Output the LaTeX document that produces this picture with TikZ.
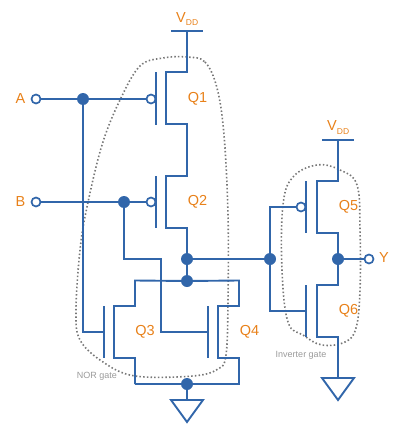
\documentclass[tikz,border=0pt]{standalone}
\usepackage{fontspec}
\setmainfont{Liberation Sans}
\definecolor{wire}{HTML}{3166AA}
\definecolor{lab}{HTML}{E8811A}
\definecolor{note}{HTML}{9A9A9A}
\definecolor{blob}{HTML}{777777}
\tikzset{
  w/.style={draw=wire,line width=1.9pt,line join=miter},
  dot/.style={circle,fill=wire,draw=none,minimum size=12pt,inner sep=0pt},
  port/.style={circle,fill=white,draw=wire,line width=1.7pt,minimum size=9pt,inner sep=0pt},
  lbl/.style={text=lab,font=\fontsize{14.5}{16}\selectfont,inner sep=0pt},
  nt/.style={text=note,font=\fontsize{9}{10}\selectfont,inner sep=0pt},
  gateblob/.style={draw=blob,line width=1.6pt,dash pattern=on 1.5pt off 2.2pt}
}
\begin{document}
\begin{tikzpicture}[x=1pt,y=-1pt]
\useasboundingbox (0,0) rectangle (400,431);
% dotted outlines
\draw[gateblob] plot[smooth cycle,tension=0.6] coordinates {(187,57)(205,62)(217,88)(224,135)(228,215)(228,300)(226,355)(218,369)(193,376)(135,376)(103,362)(80,340)(76,310)(80,250)(87,207)(102,145)(120,100)(140,66)(163,58)};
\draw[gateblob] plot[smooth cycle,tension=0.65] coordinates {(317,165)(340,170)(357,185)(360,230)(360,290)(356,328)(345,342)(322,345)(303,335)(288,322)(282,270)(283,205)(293,177)};
% named points
\coordinate (vt1) at (187,31); \coordinate (vl1) at (171,31); \coordinate (vr1) at (203,31);
\coordinate (vt2) at (338,140); \coordinate (vl2) at (322,140); \coordinate (vr2) at (354,140);
\coordinate (q1g1) at (156,72); \coordinate (q1g2) at (156,125);
\coordinate (q2g1) at (156,176); \coordinate (q2g2) at (156,228);
\coordinate (q3g1) at (104,306); \coordinate (q3g2) at (104,358);
\coordinate (q4g1) at (208,306); \coordinate (q4g2) at (208,358);
\coordinate (q5g1) at (306,181); \coordinate (q5g2) at (306,233);
\coordinate (q6g1) at (306,285); \coordinate (q6g2) at (306,337);
\coordinate (q3gin) at (104,332); \coordinate (q4gin) at (208,332);
\coordinate (q6gin) at (306,311);
% nodes
\node[dot] (da) at (83,99) {};
\node[dot] (db) at (124,202) {};
\node[dot] (dout) at (187,259) {};
\node[dot] (dtop) at (187,281) {};
\node[dot] (dgnd) at (187,384) {};
\node[dot] (dinv) at (270,259) {};
\node[dot] (dy) at (338,259) {};
\node[port] (pa) at (36,99) {};
\node[port] (pb) at (36,202) {};
\node[port] (pq1) at (151,99) {};
\node[port] (pq2) at (151,202) {};
\node[port] (pq5) at (301,207) {};
\node[port] (py) at (369,259) {};
\coordinate (g1a) at (187,400); \coordinate (g1b) at (171,400); \coordinate (g1c) at (203,400); \coordinate (g1d) at (187,422);
\coordinate (g2a) at (338,378); \coordinate (g2b) at (322,378); \coordinate (g2c) at (354,378); \coordinate (g2d) at (338,400);
% rails
\draw[w] (vl1) -- (vr1);
\draw[w] (vl2) -- (vr2);
% transistor gates
\draw[w] (q1g1) -- (q1g2);
\draw[w] (q2g1) -- (q2g2);
\draw[w] (q3g1) -- (q3g2);
\draw[w] (q4g1) -- (q4g2);
\draw[w] (q5g1) -- (q5g2);
\draw[w] (q6g1) -- (q6g2);
% NOR pull-up
\draw[w] (vt1) -- (187,72) -- (166,72) -- (166,124) -- (187,124) -- (187,176) -- (166,176) -- (166,228) -- (187,228) -- (dout);
\draw[w] (dout) -- (dtop);
% NOR pull-down
\draw[w] (135,384) -- (135,358) -- (114,358) -- (114,306) -- (135,306) -- (135,280.5) -- (dtop);
\draw[w] (dtop) -- (239,280.5) -- (239,306) -- (218,306) -- (218,358) -- (239,358) -- (239,384) -- (dgnd);
\draw[w] (dgnd) -- (135,384);
% inputs
\draw[w] (pa) -- (da);
\draw[w] (da) -- (pq1);
\draw[w] (pb) -- (db);
\draw[w] (db) -- (pq2);
\draw[w] (da) -- (83,332) -- (q3gin);
\draw[w] (db) -- (124,259) -- (161,259) -- (161,332) -- (q4gin);
% output to inverter
\draw[w] (dout) -- (dinv);
\draw[w] (dinv) -- (270,207) -- (pq5);
\draw[w] (dinv) -- (270,311) -- (q6gin);
% inverter
\draw[w] (vt2) -- (338,181) -- (317,181) -- (317,233) -- (338,233) -- (dy);
\draw[w] (dy) -- (338,285) -- (317,285) -- (317,337) -- (338,337) -- (g2a);
\draw[w] (dy) -- (py);
% grounds
\draw[w] (dgnd) -- (g1a);
\draw[w] (g1b) -- (g1c) -- (g1d) -- cycle;
\draw[w] (g2b) -- (g2c) -- (g2d) -- cycle;
% labels
\node[lbl] (la) at (20.5,99) {A};
\node[lbl] (lb) at (20.5,202) {B};
\node[lbl] (ly) at (384,258) {Y};
\node[lbl] (q1) at (197.5,99) {Q1};
\node[lbl] (q2) at (197.5,202) {Q2};
\node[lbl] (q3) at (145,332) {Q3};
\node[lbl] (q4) at (249.5,332) {Q4};
\node[lbl] (q5) at (348.5,207) {Q5};
\node[lbl] (q6) at (348.5,311) {Q6};
\node[lbl,anchor=west] (v1) at (176,19) {V\raisebox{-3.5pt}{\fontsize{8.5}{9}\selectfont DD}};
\node[lbl,anchor=west] (v2) at (327,127.5) {V\raisebox{-3.5pt}{\fontsize{8.5}{9}\selectfont DD}};
\node[nt] (nor) at (97,376) {NOR gate};
\node[nt] (inv) at (301,355) {Inverter gate};
\end{tikzpicture}
\end{document}
